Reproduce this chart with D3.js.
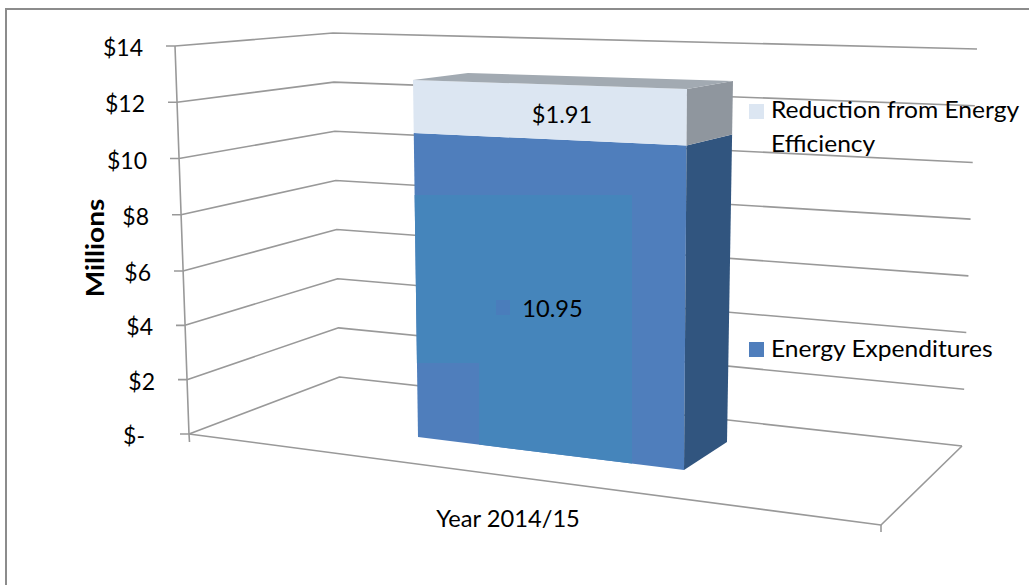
<!DOCTYPE html>
<html>
<head>
<meta charset="utf-8">
<script src="https://cdn.jsdelivr.net/npm/d3@7"></script>
<style>
  html, body { margin: 0; padding: 0; background: #fff; overflow: hidden; }
  text { font-family: Lato, "Open Sans", sans-serif; fill: #000; }
</style>
</head>
<body>
<svg id="chart" width="1029" height="585" style="display:block"></svg>
<script>
// Stacked 3-D column: one year, two components, in millions of dollars.
const categories = ["Year 2014/15"];
const seriesNames = ["Energy Expenditures", "Reduction from Energy Efficiency"];
const energyExpenditures = [10.95];
const efficiencyReduction = [1.91];
const tickValues = [0, 2, 4, 6, 8, 10, 12, 14];
const tickLabels = ["$-", "$2", "$4", "$6", "$8", "$10", "$12", "$14"];

const svg = d3.select("#chart");
const C = {
  grid: "#999999", frame: "#8c8c8c",
  front: "#4f7ebc", inner: "#4585bb", side: "#31557f",
  lightFront: "#dce6f2", lightSide: "#8f969e", top: "#a2aab2"
};

// Chart area edges: only the top and left are drawn.
svg.append("path").attr("d", "M6,585V9H1029").attr("fill", "none")
  .attr("stroke", C.frame).attr("stroke-width", 2);

// Each vertical edge of the 3-D box has its own value-to-pixel scales.
const edge = (x0, x1, y0, y1, dom) => {
  const sx = d3.scaleLinear().domain([0, dom]).range([x0, x1]);
  const sy = d3.scaleLinear().domain([0, dom]).range([y0, y1]);
  return v => [sx(v), sy(v)];
};
const wallFront = (() => {
  const sy = d3.scaleLinear().domain([0, 6, 14]).range([434, 271, 46]);
  const sx = d3.scaleLinear().domain([0, 14]).range([189, 175]);
  return v => [sx(v), sy(v)];
})();
const wallBack = edge(339.5, 333, 377, 33, 14);
const wallRight = edge(962, 977, 446, 49, 14);

const line = d3.line();
const path = (pts, close) => line(pts) + (close ? "Z" : "");

// Text is drawn slightly wide, so each label carries a horizontal stretch.
const label = (parent, str, x, y, size, stretch, anchor) =>
  parent.append("text")
    .attr("transform", `translate(${x},${y}) scale(${stretch},1)`)
    .attr("text-anchor", anchor || "start")
    .attr("font-size", size)
    .text(str);

const grid = svg.append("g").attr("fill", "none").attr("stroke", C.grid)
  .attr("stroke-width", 1.6).attr("stroke-linejoin", "round");
tickValues.forEach(v => {
  const a = wallFront(v), b = wallBack(v), c = wallRight(v);
  grid.append("path").attr("d", path([[a[0] - 9, a[1]], a, b, c]));
});
grid.append("path").attr("d", path([wallFront(14), wallFront(0), [189.5, 442]]));
// Floor outline.
grid.append("path").attr("d", path([wallFront(0), [881, 525], wallRight(0)]));
grid.append("path").attr("d", path([[881, 525], [881, 532]]));

const tickGroup = svg.append("g");
tickValues.forEach((v, i) => {
  const p = wallFront(v);
  label(tickGroup, tickLabels[i], p[0] - (v === 0 ? 44 : 32), p[1] + 10, 23, 1.0, "end");
});

const axisTitle = svg.append("text")
  .attr("transform", "translate(104,248) rotate(-90) scale(1.12,1)")
  .attr("text-anchor", "middle").attr("font-size", 25).attr("font-weight", 700)
  .text("Millions");

// The column itself.
const base = energyExpenditures[0];
const total = base + efficiencyReduction[0];
const frontLeft = edge(418, 413, 437, 80, total);
const frontRight = edge(684, 687, 470, 89, total);
const backRight = edge(727, 733, 442, 81, total);
const backLeft = edge(468, 468, 430, 73, total);

const bar = svg.append("g");
const face = (pts, fill) => bar.append("path").attr("d", path(pts, true)).attr("fill", fill);

face([frontLeft(0), frontRight(0), frontRight(base), frontLeft(base)], C.front);
face([frontRight(0), backRight(0), backRight(base), frontRight(base)], C.side);
face([frontLeft(base), frontRight(base), frontRight(total), frontLeft(total)], C.lightFront);
face([frontRight(base), backRight(base), backRight(total), frontRight(total)], C.lightSide);
face([frontLeft(total), frontRight(total), backRight(total), backLeft(total)], C.top);

// Lighter banding on the front face.
const bottomAt = x => {
  const a = frontLeft(0), b = frontRight(0);
  return a[1] + (x - a[0]) / (b[0] - a[0]) * (b[1] - a[1]);
};
const leftAt = y => {
  const a = frontLeft(0), b = frontLeft(total);
  return a[0] + (y - a[1]) / (b[1] - a[1]) * (b[0] - a[0]);
};
const bandTop = 195, notchTop = 363, bandRight = 632, notchRight = 479;
face([[leftAt(bandTop), bandTop], [bandRight, bandTop], [bandRight, bottomAt(bandRight)],
      [notchRight, bottomAt(notchRight)], [notchRight, notchTop], [leftAt(notchTop), notchTop]], C.inner);
bar.append("rect").attr("x", 496).attr("y", 300).attr("width", 14).attr("height", 15).attr("fill", "#4a7dbb");

// Data labels.
const dataLabels = svg.append("g");
label(dataLabels, "$" + efficiencyReduction[0].toFixed(2), 562, 122.5, 23, 1.03, "middle");
label(dataLabels, energyExpenditures[0].toFixed(2), 552.5, 317, 23, 1.03, "middle");

// Category label.
label(svg, categories[0], 508, 527, 23, 1.03, "middle");

// Legend.
const legend = svg.append("g");
legend.append("rect").attr("x", 749).attr("y", 104).attr("width", 15).attr("height", 15).attr("fill", C.lightFront);
const wrapped = seriesNames[1].split(" from Energy ");
label(legend, wrapped[0] + " from Energy", 771, 118, 23, 1.07);
label(legend, wrapped[1], 771, 152, 23, 1.07);
legend.append("rect").attr("x", 749).attr("y", 342).attr("width", 15).attr("height", 15).attr("fill", C.front);
label(legend, seriesNames[0], 771, 357, 23, 1.07);
</script>
</body>
</html>
